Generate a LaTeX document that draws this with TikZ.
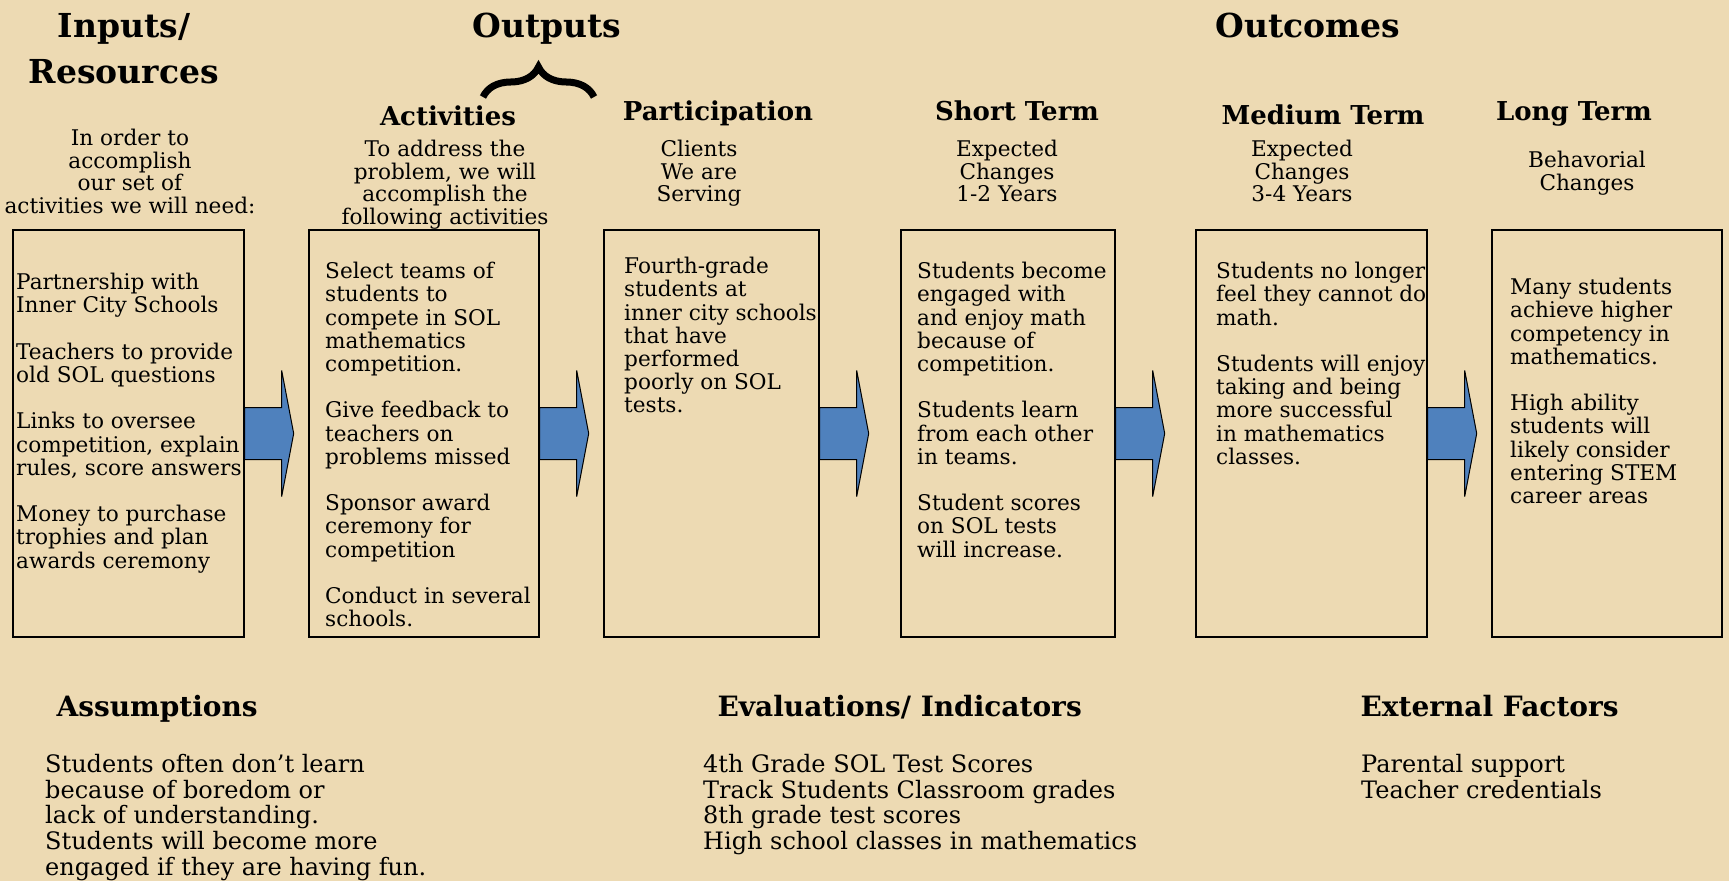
\documentclass[tikz,border=0pt]{standalone}
\usepackage{fontspec}
\setmainfont{DejaVu Serif}
\usetikzlibrary{calc,decorations.pathreplacing}
\definecolor{parch}{HTML}{EDDAB3}
\definecolor{flowblue}{HTML}{4F81BD}
\definecolor{ink}{HTML}{000000}
\tikzset{
  stagebox/.style={draw=ink, line width=1.4pt, minimum height=407pt, inner sep=0pt},
  flowarrow/.style={fill=flowblue, draw=ink, line width=1pt, line join=miter},
  bighead/.style={text=ink, font=\fontsize{33}{38}\selectfont\bfseries, anchor=base},
  colhead/.style={text=ink, font=\fontsize{26}{30}\selectfont\bfseries, anchor=base},
  foothead/.style={text=ink, font=\fontsize{28}{32}\selectfont\bfseries, anchor=base west},
  subtext/.style={text=ink, font=\fontsize{21.6}{22.6}\selectfont, align=center, anchor=north, inner sep=0pt, execute at begin node=\strut},
  boxtext/.style={text=ink, font=\fontsize{21.6}{23.2}\selectfont, align=left, anchor=north west, inner sep=0pt, execute at begin node=\strut},
  foottext/.style={text=ink, font=\fontsize{24}{25.7}\selectfont, align=left, anchor=north west, inner sep=0pt, execute at begin node=\strut},
  bracket/.style={draw=ink, line width=7pt, decorate, decoration={brace, amplitude=30pt}},
}

\begin{document}
\begin{tikzpicture}[x=1pt, y=-1pt]
  % page and backdrop
  \useasboundingbox (0,0) rectangle (1729,881);
  \fill[parch] (0,0) rectangle (1729,881);

  % top headings
  \node[bighead] (inhead) at (124,37) {Inputs/};
  \node[bighead] (reshead) at (124,83) {Resources};
  \node[bighead] (outhead) at (547,37) {Outputs};
  \node[bighead] (outcomehead) at (1308,37) {Outcomes};
  \coordinate (braceL) at (483,97);
  \coordinate (braceR) at (594,97);
  \draw[bracket] (braceL) -- (braceR);

  % column headings
  \node[colhead] (acthead) at (448,125) {Activities};
  \node[colhead] (parthead) at (718,120) {Participation};
  \node[colhead] (shorthead) at (1017,120) {Short Term};
  \node[colhead] (medhead) at (1323,124) {Medium Term};
  \node[colhead] (longhead) at (1574,120) {Long Term};

  % column notes
  \node[subtext] (insub) at (130,129) {In order to\\accomplish\\our set of\\activities we will need:};
  \node[subtext] (actsub) at (445,140) {To address the\\problem, we will\\accomplish the\\following activities};
  \node[subtext] (partsub) at (699,140) {Clients\\We are\\Serving};
  \node[subtext] (shortsub) at (1007,140) {Expected\\Changes\\1-2 Years};
  \node[subtext] (medsub) at (1302,140) {Expected\\Changes\\3-4 Years};
  \node[subtext] (longsub) at (1587,151) {Behavorial\\Changes};

  % stage boxes
  \node[stagebox, minimum width=231pt] (inbox) at (128.5,433.5) {};
  \node[stagebox, minimum width=230pt] (actbox) at (424,433.5) {};
  \node[stagebox, minimum width=215pt] (partbox) at (711.5,433.5) {};
  \node[stagebox, minimum width=214pt] (shortbox) at (1008,433.5) {};
  \node[stagebox, minimum width=231pt] (medbox) at (1311.5,433.5) {};
  \node[stagebox, minimum width=230pt] (longbox) at (1607,433.5) {};

  % block arrows
  \foreach \a in {inbox,actbox,partbox,shortbox,medbox}
    \draw[flowarrow] (\a.east) ++(0,-26) -- ++(37,0) -- ++(0,-37) -- ++(12,63)
      -- ++(-12,63) -- ++(0,-37) -- ++(-37,0) -- cycle;

  % box texts
  \node[boxtext] (intext) at (16,273) {Partnership with\\Inner City Schools\\[23.2pt]Teachers to provide\\old SOL questions\\[23.2pt]Links to oversee\\competition, explain\\rules, score answers\\[23.2pt]Money to purchase\\trophies and plan\\awards ceremony};
  \node[boxtext] (acttext) at (325,262) {Select teams of\\students to\\compete in SOL\\mathematics\\competition.\\[23.2pt]Give feedback to\\teachers on\\problems missed\\[23.2pt]Sponsor award\\ceremony for\\competition\\[23.2pt]Conduct in several\\schools.};
  \node[boxtext] (parttext) at (624,257) {Fourth-grade\\students at\\inner city schools\\that have\\performed\\poorly on SOL\\tests.};
  \node[boxtext] (shorttext) at (917,262) {Students become\\engaged with\\and enjoy math\\because of\\competition.\\[23.2pt]Students learn\\from each other\\in teams.\\[23.2pt]Student scores\\on SOL tests\\will increase.};
  \node[boxtext] (medtext) at (1216,262) {Students no longer\\feel they cannot do\\math.\\[23.2pt]Students will enjoy\\taking and being\\more successful\\in mathematics\\classes.};
  \node[boxtext] (longtext) at (1510,278) {Many students\\achieve higher\\competency in\\mathematics.\\[23.2pt]High ability\\students will\\likely consider\\entering STEM\\career areas};

  % footer
  \node[foothead] (assumhead) at (53,716) {Assumptions};
  \node[foottext] (assumtext) at (45,754) {Students often don’t learn\\because of boredom or\\lack of understanding.\\Students will become more\\engaged if they are having fun.};
  \node[foothead] (evalhead) at (714,716) {Evaluations/ Indicators};
  \node[foottext] (evaltext) at (703,754) {4th Grade SOL Test Scores\\Track Students Classroom grades\\8th grade test scores\\High school classes in mathematics};
  \node[foothead] (exthead) at (1357,716) {External Factors};
  \node[foottext] (exttext) at (1361,754) {Parental support\\Teacher credentials};
\end{tikzpicture}
\end{document}
